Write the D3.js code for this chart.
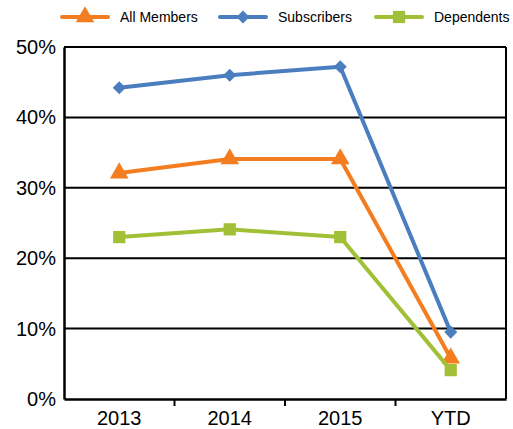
<!DOCTYPE html>
<html>
<head>
<meta charset="utf-8">
<script src="https://cdn.jsdelivr.net/npm/d3@7"></script>
<style>
  body { margin: 0; background: #fff; }
  svg text { font-family: "Liberation Sans", Arial, sans-serif; fill: #000; }
</style>
</head>
<body>
<div id="chart"></div>
<script>
// chart values
const categories = ['2013', '2014', '2015', 'YTD']
const allMembers = [32.1, 34.1, 34.1, 5.8]
const subscribers = [44.2, 46.0, 47.2, 9.5]
const dependents = [23.0, 24.1, 23.0, 4.1]
const yTicks = [0, 10, 20, 30, 40, 50]

const series = [
  {name: 'All Members', values: allMembers, color: '#F47D20', shape: d3.symbolTriangle, size: 150, rot: 0},
  {name: 'Subscribers', values: subscribers, color: '#4A7EBF', shape: d3.symbolSquare, size: 85, rot: 45},
  {name: 'Dependents', values: dependents, color: '#A2C037', shape: d3.symbolSquare, size: 150, rot: 0}
]

const W = 513, H = 429
const margin = {top: 47, right: 7, bottom: 30, left: 64}
const w = W - margin.left - margin.right
const h = H - margin.top - margin.bottom

const svg = d3.select('#chart').append('svg')
  .attr('width', W).attr('height', H)

const g = svg.append('g')
  .attr('transform', 'translate(' + margin.left + ',' + margin.top + ')')

const x = d3.scaleBand().domain(categories).range([0, w])
const y = d3.scaleLinear().domain([0, 50]).range([h, 0])

// gridlines
g.selectAll('line.grid').data(yTicks.filter(d => d > 0)).enter().append('line')
  .attr('class', 'grid')
  .attr('x1', 0).attr('x2', w)
  .attr('y1', d => y(d)).attr('y2', d => y(d))
  .attr('stroke', '#000').attr('stroke-width', 2)

// frame (right side)
g.append('line').attr('x1', w).attr('x2', w).attr('y1', 0).attr('y2', h)
  .attr('stroke', '#000').attr('stroke-width', 2)

// y axis
const yAxis = g.append('g').call(d3.axisLeft(y).tickValues(yTicks).tickSize(0).tickPadding(8).tickFormat(d => d + '%'))
yAxis.select('.domain').attr('stroke', '#000').attr('stroke-width', 2.5)
yAxis.selectAll('text').attr('font-size', 20).attr('font-family', '"Liberation Sans", Arial, sans-serif')

// x axis
const xAxis = g.append('g').attr('transform', 'translate(0,' + h + ')')
  .call(d3.axisBottom(x).tickSize(0).tickPadding(12))
xAxis.select('.domain').attr('stroke', '#000').attr('stroke-width', 2.5)
xAxis.selectAll('text').attr('font-size', 20).attr('font-family', '"Liberation Sans", Arial, sans-serif')

// tick marks between categories
g.selectAll('line.xtick').data(categories.slice(1)).enter().append('line')
  .attr('class', 'xtick')
  .attr('x1', d => x(d)).attr('x2', d => x(d))
  .attr('y1', h).attr('y2', h + 7)
  .attr('stroke', '#000').attr('stroke-width', 2)

const line = d3.line()
  .x((d, i) => x(categories[i]) + x.bandwidth() / 2)
  .y(d => y(d))

series.forEach(s => {
  g.append('path').datum(s.values)
    .attr('d', line)
    .attr('fill', 'none')
    .attr('stroke', s.color)
    .attr('stroke-width', 4)
    .attr('stroke-linejoin', 'round')

  g.selectAll(null).data(s.values).enter().append('path')
    .attr('d', d3.symbol().type(s.shape).size(s.size))
    .attr('transform', (d, i) => 'translate(' + (x(categories[i]) + x.bandwidth() / 2) + ',' + y(d) + ') rotate(' + s.rot + ')')
    .attr('fill', s.color)
})

// legend
const legendX = [62, 220, 376]
const legend = svg.selectAll('g.legend').data(series).enter().append('g')
  .attr('class', 'legend')
  .attr('transform', (d, i) => 'translate(' + legendX[i] + ',17)')

legend.append('line')
  .attr('x1', 0).attr('x2', 46).attr('y1', 0).attr('y2', 0)
  .attr('stroke', d => d.color).attr('stroke-width', 4).attr('stroke-linecap', 'round')
legend.append('path')
  .attr('d', d => d3.symbol().type(d.shape).size(d.size)())
  .attr('transform', d => 'translate(23,0) rotate(' + d.rot + ')')
  .attr('fill', d => d.color)
legend.append('text')
  .attr('x', 58).attr('y', 0).attr('dy', '0.35em')
  .attr('font-size', 14)
  .text(d => d.name)
</script>
</body>
</html>
